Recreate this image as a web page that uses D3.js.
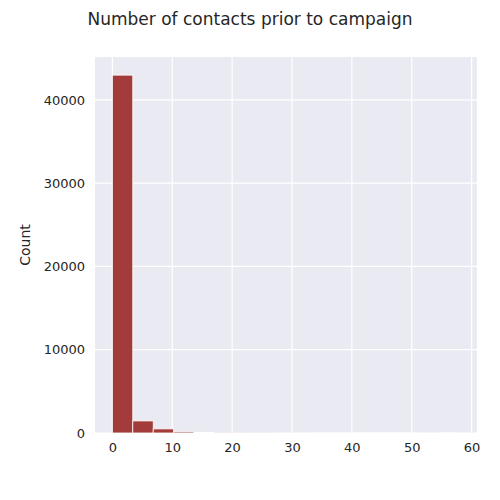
<!DOCTYPE html>
<html><head><meta charset="utf-8">
<script src="https://d3js.org/d3.v7.min.js"></script>
<style>body{margin:0;background:#fff}text{font-family:"DejaVu Sans",sans-serif}</style>
</head><body>
<svg id="chart" width="500" height="500"></svg>
<script>
// histogram of 'previous', 17 bins over 0..58
const binStart = 0, binEnd = 58, binCount = 17;
const counts = [42974, 1450, 493, 147, 67, 25, 18, 16, 7, 4, 2, 2, 1, 1, 1, 0, 1];
const xTicks = [0, 10, 20, 30, 40, 50, 60];
const yTicks = [0, 10000, 20000, 30000, 40000];

const svg = d3.select("#chart");
const plotL = 95, plotR = 477, plotT = 57, plotB = 433;
const w = (binEnd - binStart) / binCount;

const x = d3.scaleLinear().domain([-2.9, 60.9]).range([plotL, plotR]);
const y = d3.scaleLinear().domain([0, 45150]).range([plotB, plotT]);

svg.append("rect").attr("x", plotL).attr("y", plotT)
  .attr("width", plotR - plotL).attr("height", plotB - plotT).attr("fill", "#eaeaf2");

svg.append("g").selectAll("line").data(xTicks).join("line")
  .attr("x1", d => x(d)).attr("x2", d => x(d)).attr("y1", plotT).attr("y2", plotB)
  .attr("stroke", "#fff").attr("stroke-width", 1.2);
svg.append("g").selectAll("line").data(yTicks).join("line")
  .attr("x1", plotL).attr("x2", plotR).attr("y1", d => y(d)).attr("y2", d => y(d))
  .attr("stroke", "#fff").attr("stroke-width", 1.2);

svg.append("g").selectAll("rect").data(counts).join("rect")
  .attr("x", (d, i) => x(binStart + i * w))
  .attr("width", x(w) - x(0))
  .attr("y", d => y(d))
  .attr("height", d => y(0) - y(d))
  .attr("fill", "#a33b3b").attr("stroke", "#fff").attr("stroke-width", 0.8);

const xa = svg.append("g").attr("transform", `translate(0,${plotB})`)
  .call(d3.axisBottom(x).tickValues(xTicks).tickSize(0).tickPadding(10));
const ya = svg.append("g").attr("transform", `translate(${plotL},0)`)
  .call(d3.axisLeft(y).tickValues(yTicks).tickFormat(d3.format("d")).tickSize(0).tickPadding(10));
[xa, ya].forEach(a => {
  a.select(".domain").remove();
  a.selectAll("text").attr("font-size", 13).attr("fill", "#262626")
    .style("font-family", "DejaVu Sans, sans-serif");
});

svg.append("text").attr("transform", `translate(30,${(plotT + plotB) / 2}) rotate(-90)`)
  .attr("text-anchor", "middle").attr("font-size", 14).attr("fill", "#262626").text("Count");
svg.append("text").attr("x", 250).attr("y", 25).attr("text-anchor", "middle")
  .attr("font-size", 17).attr("fill", "#262626").text("Number of contacts prior to campaign");
</script>
</body></html>
